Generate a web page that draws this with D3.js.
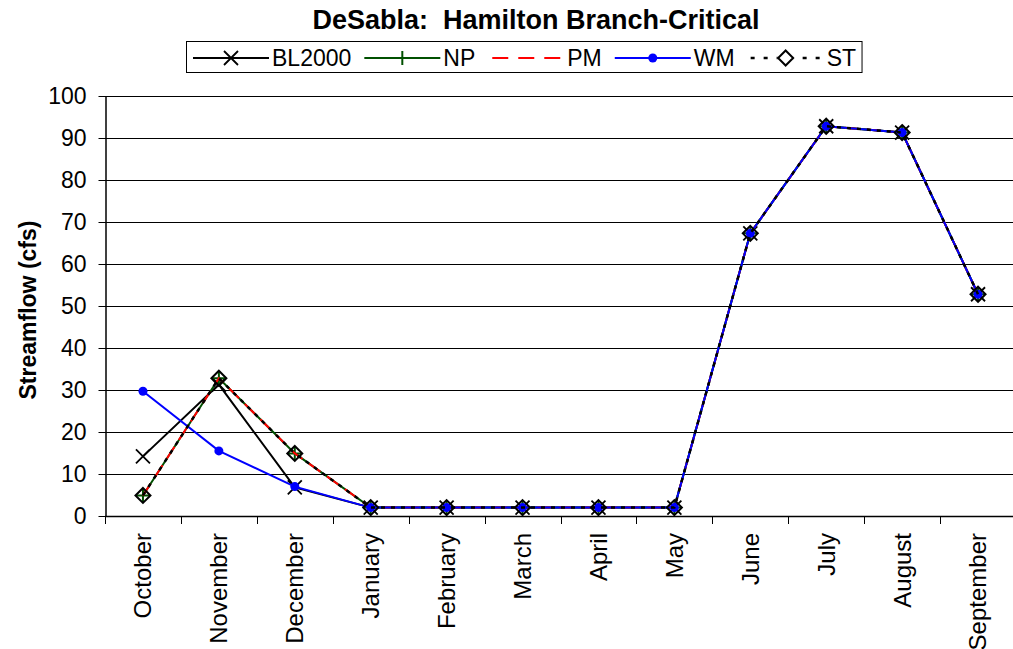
<!DOCTYPE html>
<html>
<head>
<meta charset="utf-8">
<script src="https://cdn.jsdelivr.net/npm/d3@7"></script>
<style>
  html, body { margin: 0; padding: 0; background: #fff; }
  svg { display: block; font-family: "Liberation Sans", Arial, sans-serif; }
</style>
</head>
<body>
<svg id="chart" width="1013" height="649"></svg>
<script>
const months = ["October","November","December","January","February","March","April","May","June","July","August","September"];
const bl2000 = [14.2, 31.3, 6.8, 2, 2, 2, 2, 2, 67.3, 92.8, 91.3, 52.8];
const np     = [4.9, 32.8, 14.9, 2, 2, 2, 2, 2, 67.3, 92.8, 91.3, 52.8];
const pm     = [4.9, 32.8, 14.9, 2, 2, 2, 2, 2, 67.3, 92.8, 91.3, 52.8];
const wm     = [29.7, 15.5, 7.0, 2, 2, 2, 2, 2, 67.3, 92.8, 91.3, 52.8];
const st     = [4.9, 32.8, 14.9, 2, 2, 2, 2, 2, 67.3, 92.8, 91.3, 52.8];
const yTicks = [0, 10, 20, 30, 40, 50, 60, 70, 80, 90, 100];
const chartTitle = "DeSabla:  Hamilton Branch-Critical";
const yTitle = "Streamflow (cfs)";

const series = [
  { name: "BL2000", values: bl2000, color: "#000000", width: 2, dash: null, marker: "x" },
  { name: "NP", values: np, color: "#005000", width: 2, dash: null, marker: "plus" },
  { name: "PM", values: pm, color: "#ff0000", width: 2, dash: "14,8", marker: null },
  { name: "WM", values: wm, color: "#0000ff", width: 2, dash: null, marker: "circle" },
  { name: "ST", values: st, color: "#000000", width: 2.5, dash: "4,6", marker: "diamond" }
];

const svg = d3.select("#chart");
const pLeft = 105, pRight = 1016, pTop = 96, pBottom = 516;

const x = d3.scaleBand().domain(months).range([pLeft, pRight]);
const y = d3.scaleLinear().domain([0, 100]).range([pBottom, pTop]);
const cx = d => x(d) + x.bandwidth() / 2;

// gridlines
svg.append("g")
  .selectAll("line").data(yTicks.filter(v => v > 0)).join("line")
  .attr("x1", pLeft).attr("x2", 1013)
  .attr("y1", d => Math.round(y(d)) + 0.5).attr("y2", d => Math.round(y(d)) + 0.5)
  .attr("stroke", "#000").attr("stroke-width", 1);

// y axis
const yAxis = svg.append("g").attr("transform", `translate(${pLeft + 0.5},0)`)
  .call(d3.axisLeft(y).tickValues(yTicks).tickSize(7).tickSizeOuter(0).tickPadding(12));
yAxis.select(".domain").attr("stroke", "#000").attr("stroke-width", 1.5);
yAxis.selectAll(".tick line").attr("stroke", "#000");
yAxis.selectAll(".tick text").attr("font-size", 23).attr("fill", "#000")
  .attr("font-family", "Liberation Sans, Arial, sans-serif");

// x axis line
svg.append("line").attr("x1", pLeft).attr("x2", 1013)
  .attr("y1", pBottom + 0.5).attr("y2", pBottom + 0.5)
  .attr("stroke", "#000").attr("stroke-width", 1.5);

// x ticks at band boundaries
svg.append("g").selectAll("line").data(months).join("line")
  .attr("x1", d => Math.round(x(d)) + 0.5).attr("x2", d => Math.round(x(d)) + 0.5)
  .attr("y1", pBottom).attr("y2", pBottom + 8)
  .attr("stroke", "#000");

// x labels
svg.append("g").selectAll("text").data(months).join("text")
  .attr("transform", d => `translate(${cx(d)},${pBottom + 17}) rotate(-90)`)
  .attr("text-anchor", "end").attr("dy", "0.35em")
  .attr("font-size", 24).attr("fill", "#000")
  .text(d => d);

// titles
svg.append("text").attr("x", 536).attr("y", 29).attr("text-anchor", "middle")
  .style("white-space", "pre")
  .attr("font-size", 27).attr("font-weight", "bold").text(chartTitle);
svg.append("text").attr("transform", "translate(36,310) rotate(-90)")
  .attr("text-anchor", "middle").attr("font-size", 23).attr("font-weight", "bold").text(yTitle);

// markers
function drawMarker(g, type, color, px, py) {
  if (type === "x") {
    const s = 7;
    g.append("path").attr("d", `M${px - s},${py - s}L${px + s},${py + s}M${px - s},${py + s}L${px + s},${py - s}`)
      .attr("stroke", color).attr("stroke-width", 1.8).attr("fill", "none");
  } else if (type === "plus") {
    const s = 7;
    g.append("path").attr("d", `M${px - s},${py}L${px + s},${py}M${px},${py - s}L${px},${py + s}`)
      .attr("stroke", color).attr("stroke-width", 2).attr("fill", "none");
  } else if (type === "circle") {
    g.append("circle").attr("cx", px).attr("cy", py).attr("r", 4.5).attr("fill", color);
  } else if (type === "diamond") {
    const s = 7.5;
    g.append("path").attr("d", `M${px},${py - s}L${px + s},${py}L${px},${py + s}L${px - s},${py}Z`)
      .attr("stroke", color).attr("stroke-width", 2).attr("fill", "none");
  }
}

const line = d3.line().x((d, i) => cx(months[i])).y(d => y(d));
series.forEach(s => {
  const g = svg.append("g");
  g.append("path").attr("d", line(s.values)).attr("fill", "none")
    .attr("stroke", s.color).attr("stroke-width", s.width)
    .attr("stroke-dasharray", s.dash);
  if (s.marker) s.values.forEach((v, i) => drawMarker(g, s.marker, s.color, cx(months[i]), y(v)));
});

// legend
const lg = svg.append("g");
const ly = 58;
let lx = 193;
const sampleW = 76;
const legendDash = { PM: ["16,10", -4], ST: ["4,9", -3] };
series.forEach(s => {
  const g = lg.append("g");
  const ld = legendDash[s.name];
  g.append("line").attr("x1", lx).attr("x2", lx + sampleW).attr("y1", ly).attr("y2", ly)
    .attr("stroke", s.color).attr("stroke-width", s.width)
    .attr("stroke-dasharray", ld ? ld[0] : s.dash)
    .attr("stroke-dashoffset", ld ? ld[1] : 0);
  if (s.marker) {
    if (s.marker === "diamond") {
      g.append("rect").attr("x", lx + sampleW / 2 - 8).attr("y", ly - 8).attr("width", 16).attr("height", 16).attr("fill", "#fff");
    }
    drawMarker(g, s.marker, s.color, lx + sampleW / 2, ly);
  }
  const t = g.append("text").attr("x", lx + sampleW + 3).attr("y", ly).attr("dy", "0.35em")
    .attr("font-size", 23).text(s.name);
  lx += sampleW + 3 + t.node().getComputedTextLength() + 13;
});
lg.insert("rect", ":first-child").attr("x", 186.5).attr("y", 41.5)
  .attr("width", lx - 13 + 6 - 186.5).attr("height", 31)
  .attr("fill", "#fff").attr("stroke", "#000").attr("stroke-width", 1);
</script>
</body>
</html>
